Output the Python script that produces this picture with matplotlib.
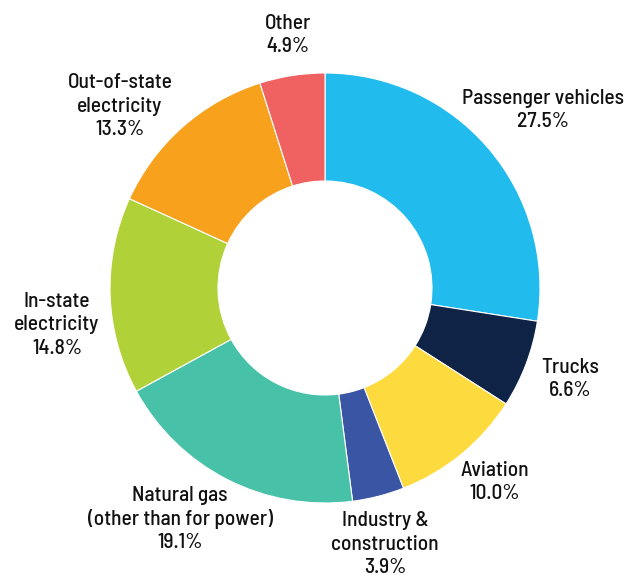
import matplotlib
matplotlib.use('Agg')
import matplotlib.pyplot as plt

categories = ["Passenger vehicles", "Trucks", "Aviation", "Industry &\nconstruction",
              "Natural gas\n(other than for power)", "In-state\nelectricity",
              "Out-of-state\nelectricity", "Other"]
shares = [27.5, 6.6, 10.0, 3.9, 19.1, 14.8, 13.3, 4.9]
colors = ["#22BBEE", "#0F2347", "#FDDB3F", "#3A55A4", "#47C1A8", "#B1D138", "#F7A11D", "#F06262"]

# label centres in pixels (x, y from top)
label_pos = [(543, 110), (570, 379), (495, 482), (385, 544),
             (180, 519), (57, 325), (120, 106), (288, 35)]

plt.rcParams['font.family'] = ['Barlow Semi Condensed', 'DejaVu Sans']

W, H = 629, 575
fig = plt.figure(figsize=(W / 100, H / 100), dpi=100)
ax = fig.add_axes([0, 0, 1, 1])

ax.pie(shares, colors=colors, startangle=90, counterclock=False,
       center=(325, H - 288), radius=215, frame=True,
       wedgeprops=dict(width=108, edgecolor='white', linewidth=0.8))
ax.set_xlim(0, W)
ax.set_ylim(0, H)
ax.set_aspect('equal')
ax.axis('off')

for name, val, (px, py) in zip(categories, shares, label_pos):
    ax.text(px, H - py, "{}\n{:.1f}%".format(name, val), ha='center', va='center',
            fontsize=15.4, fontweight='medium', linespacing=1.28, color='#111111')

fig.savefig("out.png", dpi=100)
